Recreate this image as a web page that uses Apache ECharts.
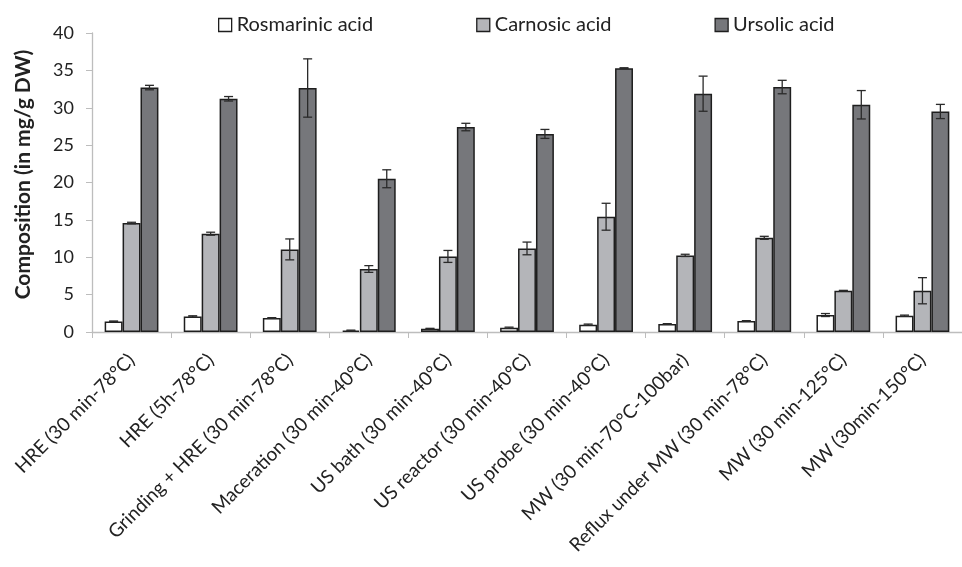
<!DOCTYPE html>
<html>
<head>
<meta charset="utf-8">
<script src="https://cdn.jsdelivr.net/npm/echarts@6/dist/echarts.min.js"></script>
<style>
  html, body { margin: 0; padding: 0; background: #fff; }
  #chart { width: 962px; height: 567px; }
</style>
</head>
<body>
<div id="chart"></div>
<script>
// Extraction methods
const categories = [
  'HRE (30 min-78°C)',
  'HRE (5h-78°C)',
  'Grinding + HRE (30 min-78°C)',
  'Maceration (30 min-40°C)',
  'US bath (30 min-40°C)',
  'US reactor (30 min-40°C)',
  'US probe (30 min-40°C)',
  'MW (30 min-70°C-100bar)',
  'Reflux under MW (30 min-78°C)',
  'MW (30 min-125°C)',
  'MW (30min-150°C)'
];

// Mean content, mg/g DW
const rosmarinic = [1.42, 2.09, 1.87, 0.20, 0.44, 0.57, 0.98, 1.07, 1.47, 2.27, 2.18];
const carnosic   = [14.58, 13.15, 11.05, 8.43, 10.11, 11.18, 15.42, 10.25, 12.60, 5.52, 5.52];
const ursolic    = [32.70, 31.20, 32.64, 20.50, 27.42, 26.50, 35.30, 31.88, 32.77, 30.40, 29.50];

// Standard deviations
const rosmarinicSd = [0.05, 0.08, 0.05, 0.05, 0.05, 0.08, 0.08, 0.05, 0.05, 0.20, 0.08];
const carnosicSd   = [0.10, 0.20, 1.40, 0.45, 0.80, 0.85, 1.80, 0.15, 0.20, 0.05, 1.75];
const ursolicSd    = [0.30, 0.30, 3.90, 1.20, 0.50, 0.60, 0.05, 2.35, 0.90, 1.90, 0.95];

const yTicks = { min: 0, max: 40, interval: 5 };

const FONT = 'Lato, "Open Sans", sans-serif';
const CATEGORY_GAP = 0.32;
const seriesNames = ['Rosmarinic acid', 'Carnosic acid', 'Ursolic acid'];
const fills = ['#ffffff', '#b4b5b9', '#76777b'];
const values = [rosmarinic, carnosic, ursolic];
const sds = [rosmarinicSd, carnosicSd, ursolicSd];

function errorSeries(idx) {
  const data = categories.map((c, i) => [i, values[idx][i] - sds[idx][i], values[idx][i] + sds[idx][i]]);
  return {
    type: 'custom',
    name: seriesNames[idx] + ' SD',
    z: 5,
    silent: true,
    data: data,
    encode: { x: 0, y: [1, 2] },
    renderItem: function (params, api) {
      const band = api.size([1, 0])[0];
      const bw = band * (1 - CATEGORY_GAP) / 3;
      const xc = api.coord([api.value(0), 0])[0] + (idx - 1) * bw;
      const lo = api.coord([api.value(0), api.value(1)])[1];
      const hi = api.coord([api.value(0), api.value(2)])[1];
      const cap = 4.5;
      const style = { stroke: '#2a2a2a', lineWidth: 1.3, fill: null };
      return {
        type: 'group',
        children: [
          { type: 'line', shape: { x1: xc, y1: lo, x2: xc, y2: hi }, style: style },
          { type: 'line', shape: { x1: xc - cap, y1: hi, x2: xc + cap, y2: hi }, style: style },
          { type: 'line', shape: { x1: xc - cap, y1: lo, x2: xc + cap, y2: lo }, style: style }
        ]
      };
    }
  };
}

const chart = echarts.init(document.getElementById('chart'), null, { renderer: 'canvas' });

const barSeries = seriesNames.map((name, idx) => ({
  type: 'bar',
  name: name,
  data: values[idx],
  barGap: '0%',
  barCategoryGap: (CATEGORY_GAP * 100) + '%',
  itemStyle: { color: fills[idx], borderColor: '#1e1e1e', borderWidth: 1.5 }
}));

chart.setOption({
  animation: false,
  backgroundColor: '#ffffff',
  textStyle: { fontFamily: FONT },
  legend: {
    data: seriesNames,
    left: 213,
    top: 10,
    itemGap: 103,
    itemWidth: 13,
    itemHeight: 13,
    icon: 'rect',
    textStyle: { fontFamily: FONT, fontSize: 20, color: '#222' },
    itemStyle: { borderColor: '#1e1e1e', borderWidth: 1.3 }
  },
  grid: { left: 92, top: 33, bottom: 235, right: -8, containLabel: false },
  xAxis: {
    type: 'category',
    data: categories,
    axisLine: { lineStyle: { color: '#bdbdbd', width: 1.3 } },
    axisTick: { show: true, alignWithLabel: false, length: 6, lineStyle: { color: '#bdbdbd' } },
    axisLabel: {
      interval: 0,
      rotate: 45,
      margin: 25,
      fontFamily: FONT,
      fontSize: 19,
      color: '#222'
    }
  },
  yAxis: {
    type: 'value',
    min: yTicks.min,
    max: yTicks.max,
    interval: yTicks.interval,
    name: 'Composition (in mg/g DW)',
    nameLocation: 'middle',
    nameGap: 58,
    nameTextStyle: { fontFamily: FONT, fontSize: 21, fontWeight: 'bold', color: '#222', padding: [0, 0, 0, 16] },
    axisLine: { show: true, lineStyle: { color: '#bdbdbd', width: 1.3 } },
    axisTick: { show: true, length: 6, lineStyle: { color: '#bdbdbd' } },
    splitLine: { show: false },
    axisLabel: { fontFamily: FONT, fontSize: 18, color: '#222', margin: 18 }
  },
  series: barSeries.concat([errorSeries(0), errorSeries(1), errorSeries(2)])
});
</script>
</body>
</html>
